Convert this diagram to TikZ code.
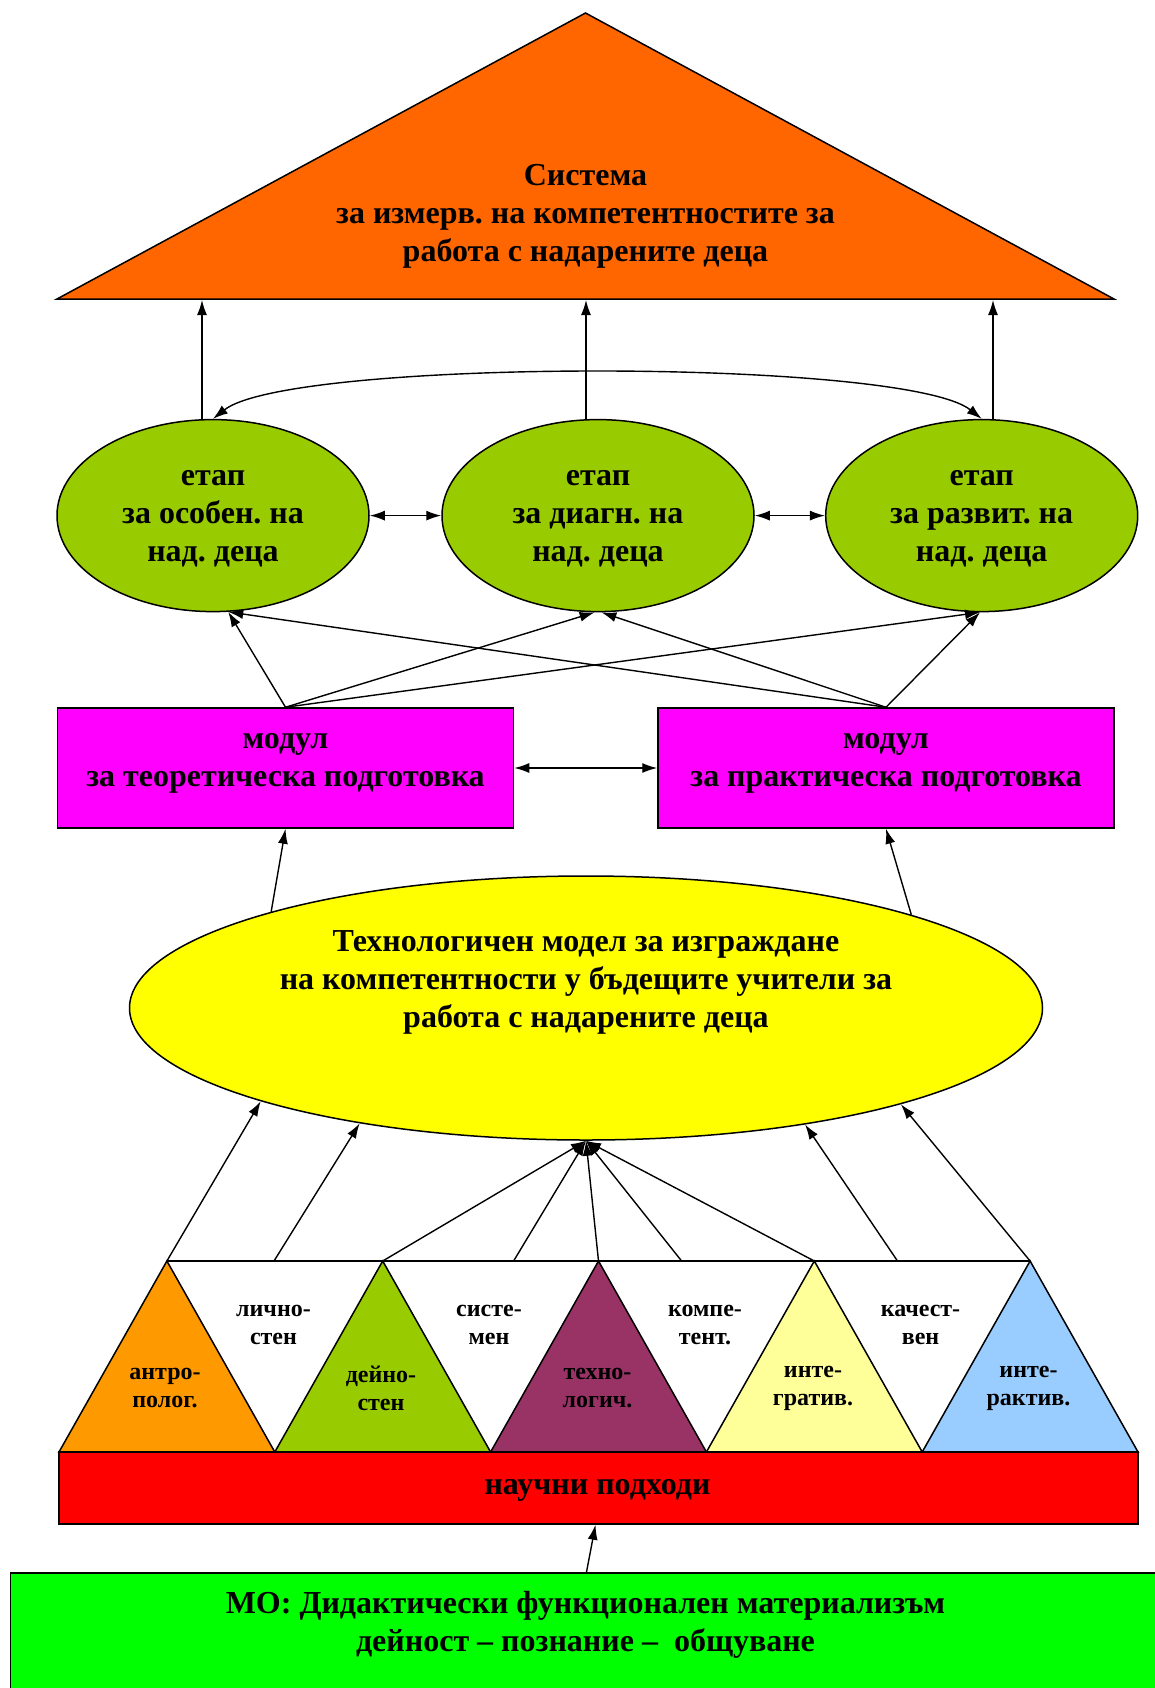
\documentclass[tikz,border=0pt]{standalone}
\usepackage{fontspec}
\setmainfont{Liberation Serif}
\usetikzlibrary{arrows.meta,shapes.geometric}
\definecolor{roofc}{HTML}{FF6600}
\definecolor{etapc}{HTML}{99CC00}
\definecolor{modc}{HTML}{FF00FF}
\definecolor{yelc}{HTML}{FFFF00}
\definecolor{torange}{HTML}{FF9900}
\definecolor{tgreen}{HTML}{99CC00}
\definecolor{tpurple}{HTML}{993366}
\definecolor{tlyellow}{HTML}{FFFF99}
\definecolor{tblue}{HTML}{99CCFF}
\definecolor{redc}{HTML}{FF0000}
\definecolor{grnc}{HTML}{00FF00}
\frenchspacing
\begin{document}
\begin{tikzpicture}[x=1pt,y=-1pt,
  arr/.style={-{Latex[length=15pt,width=10pt]}, line width=1.4pt},
  darr/.style={{Latex[length=15pt,width=10pt]}-{Latex[length=15pt,width=10pt]}, line width=1.4pt},
  txt/.style={font=\fontsize{32}{38}\selectfont\bfseries, align=center, inner sep=0pt},
  smalltxt/.style={font=\fontsize{24}{28}\selectfont\bfseries, align=center, inner sep=0pt},
  etap/.style={ellipse, draw, line width=1.5pt, fill=etapc, minimum width=312pt, minimum height=192pt, inner sep=0pt},
  modbox/.style={rectangle, draw, line width=1.5pt, fill=modc, minimum width=456pt, minimum height=120pt, inner sep=0pt},
  tri/.style={draw, line width=1.5pt}
]
\useasboundingbox (0,0) rectangle (1155,1688);
\clip (0,0) rectangle (1155,1688);

% roof
\coordinate (apex) at (585.5,13);
\coordinate (rl) at (57,299);
\coordinate (rr) at (1114,299);
\draw[fill=roofc, line width=1.5pt] (apex) -- (rr) -- (rl) -- cycle;
\node[txt] (roofT) at (585.5,216) {Система\\за измерв. на компетентностите за\\работа с надарените деца};
\coordinate (r1) at (202,300);
\coordinate (r2) at (586,300);
\coordinate (r3) at (993,300);

% stages
\node[etap] (e1) at (213,515.6) {};
\node[etap] (e2) at (598,515.6) {};
\node[etap] (e3) at (981.7,515.6) {};
\node[txt] (e1t) at (213,519) {етап\\за особен. на\\над. деца};
\node[txt] (e2t) at (598,519) {етап\\за диагн. на\\над. деца};
\node[txt] (e3t) at (981.7,519) {етап\\за развит. на\\над. деца};

\draw[arr] (e1.north -| r1) -- (r1);
\draw[arr] (e2.north -| r2) -- (r2);
\draw[arr] (e3.north -| r3) -- (r3);
\draw[darr] (e1.north) .. controls (290,358) and (905,358) .. (e3.north);
\draw[darr] (e1.east) -- (e2.west);
\draw[darr] (e2.east) -- (e3.west);

% modules
\node[modbox] (m1) at (285.5,768) {};
\node[modbox] (m2) at (886,768) {};
\node[txt] (m1t) at (285.5,763) {модул\\за теоретическа подготовка};
\node[txt] (m2t) at (886,763) {модул\\за практическа подготовка};
\draw[darr] (m1.east) -- (m2.west);

\draw[arr] (m1.north) -- (e1.279);
\draw[arr] (m1.north) -- (e2.268);
\draw[arr] (m1.north) -- (e3.269);
\draw[arr] (m2.north) -- (e1.279);
\draw[arr] (m2.north) -- (e2.272);
\draw[arr] (m2.north) -- (e3.269);

% technological model
\node[ellipse, draw, line width=1.5pt, fill=yelc, minimum width=913pt, minimum height=264pt, inner sep=0pt] (yel) at (586,1008) {};
\node[txt] (yelT) at (586,982.5) {Технологичен модел за изграждане\\на компетентности у бъдещите учители за\\работа с надарените деца};
\draw[arr] (yel.163.8) -- (m1.south);
\draw[arr] (yel.16.2) -- (m2.south);

% approaches triangles
\coordinate (a1) at (166.9,1261);
\coordinate (a2) at (382.7,1261);
\coordinate (a3) at (598.5,1261);
\coordinate (a4) at (814.3,1261);
\coordinate (a5) at (1030.1,1261);
\coordinate (b0) at (59,1452);
\coordinate (b1) at (274.8,1452);
\coordinate (b2) at (490.6,1452);
\coordinate (b3) at (706.4,1452);
\coordinate (b4) at (922.2,1452);
\coordinate (b5) at (1138,1452);
\coordinate (w1) at (274,1261);
\coordinate (w2) at (513.6,1261);
\coordinate (w3) at (681.6,1261);
\coordinate (w4) at (897.5,1261);

\draw[tri, fill=torange] (b0) -- (a1) -- (b1) -- cycle;
\draw[tri, fill=tgreen] (b1) -- (a2) -- (b2) -- cycle;
\draw[tri, fill=tpurple] (b2) -- (a3) -- (b3) -- cycle;
\draw[tri, fill=tlyellow] (b3) -- (a4) -- (b4) -- cycle;
\draw[tri, fill=tblue] (b4) -- (a5) -- (b5) -- cycle;
\draw[line width=1.5pt] (a1) -- (a5);

\node[smalltxt] (t1) at (165,1388) {антро-\\полог.};
\node[smalltxt] (t2) at (381,1388) {дейно-\\стен};
\node[smalltxt] (t3) at (597.5,1388) {техно-\\логич.};
\node[smalltxt] (t4) at (813,1388) {инте-\\гратив.};
\node[smalltxt] (t5) at (1028.5,1388) {инте-\\рактив.};
\node[smalltxt] (u1) at (273.5,1325) {лично-\\стен};
\node[smalltxt] (u2) at (489,1325) {систе-\\мен};
\node[smalltxt] (u3) at (705,1325) {компе-\\тент.};
\node[smalltxt] (u4) at (920.5,1325) {качест-\\вен};

\draw[arr] (a1) -- (yel.196.5);
\draw[arr] (w1) -- (yel.207.5);
\draw[arr] (a2) -- (yel.south);
\draw[arr] (w2) -- (yel.south);
\draw[arr] (a3) -- (yel.south);
\draw[arr] (w3) -- (yel.south);
\draw[arr] (a4) -- (yel.south);
\draw[arr] (w4) -- (yel.332.5);
\draw[arr] (a5) -- (yel.343.5);

% scientific approaches
\node[rectangle, draw, line width=1.5pt, fill=redc, minimum width=1079pt, minimum height=72pt, inner sep=0pt] (red) at (598.5,1488) {};
\node[txt] (redT) at (597.5,1490) {научни подходи};

% methodological basis
\node[rectangle, draw, line width=1.5pt, fill=grnc, minimum width=1300pt, minimum height=300pt, inner sep=0pt, anchor=north west] (grn) at (9.5,1572) {};
\node[txt] (grnT) at (585.5,1624.5) {МО: Дидактически функционален материализъм\\дейност – познание – \ общуване};
\coordinate (g1) at (586.5,1572);
\draw[arr] (g1) -- ([xshift=-3pt]red.south);
\end{tikzpicture}
\end{document}
